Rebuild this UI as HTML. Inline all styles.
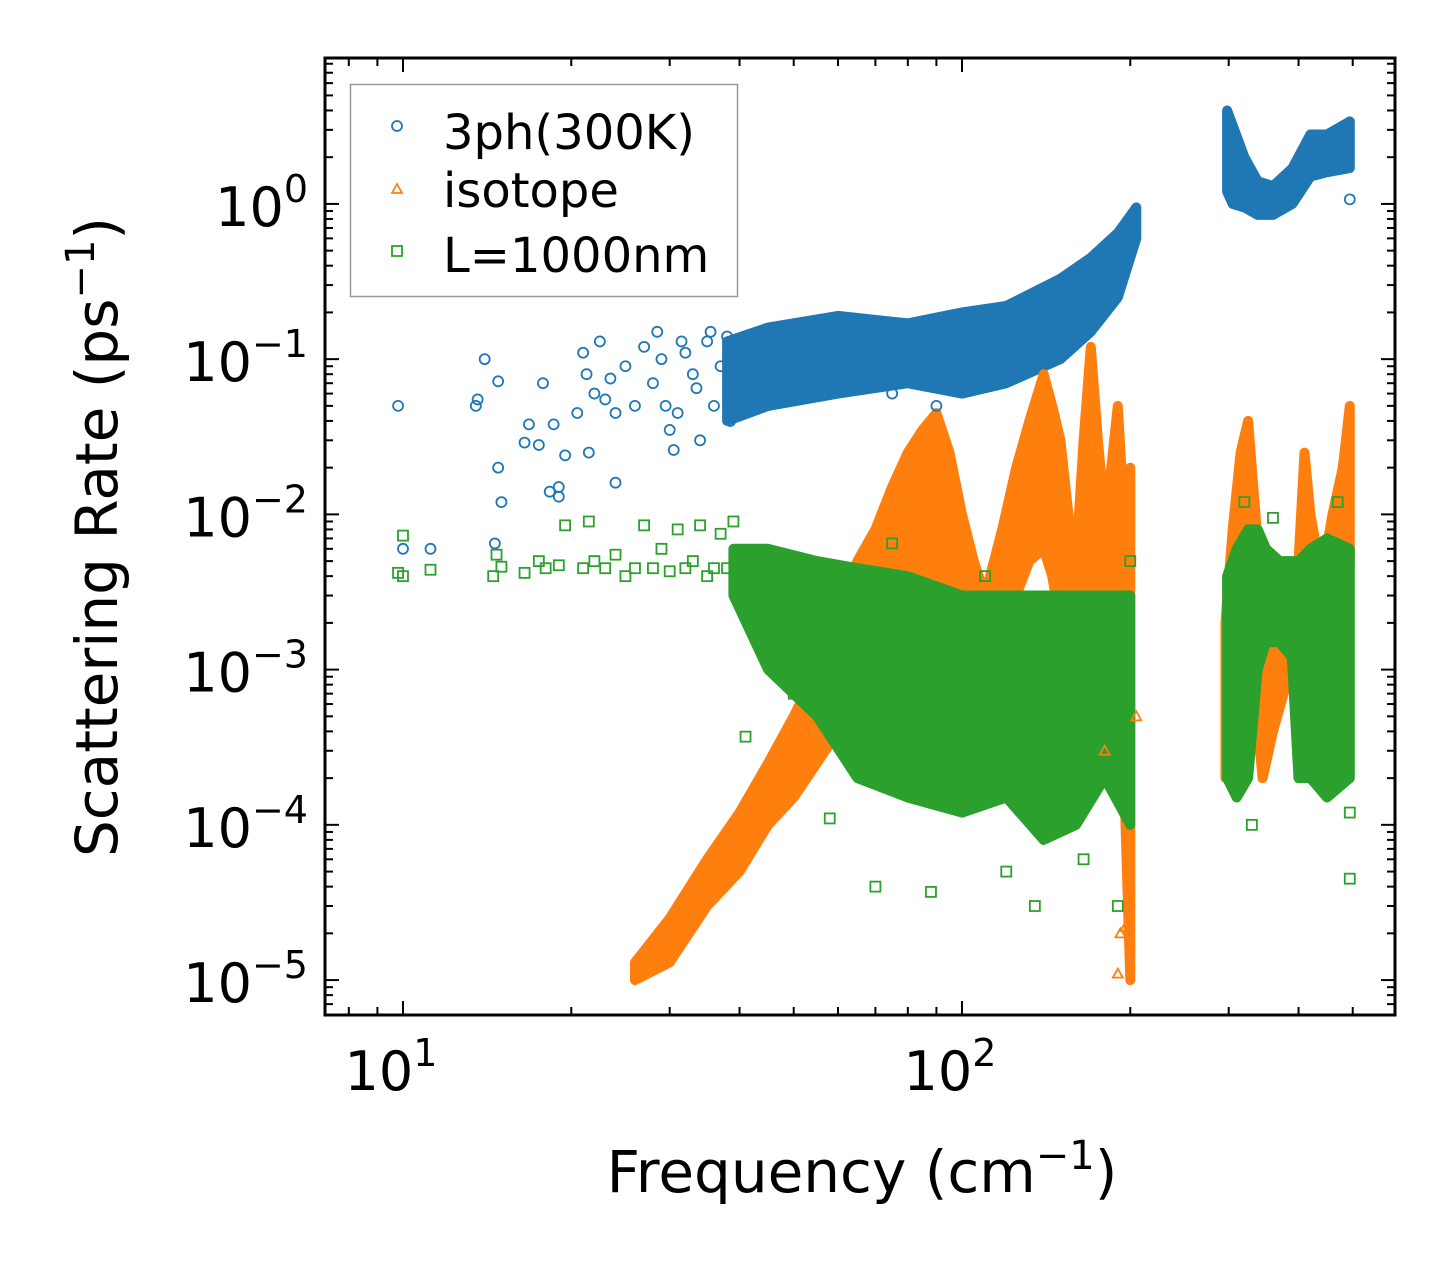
<!DOCTYPE html>
<html><head><meta charset="utf-8"><style>
html,body{margin:0;padding:0;background:#fff;}
svg{display:block;font-family:"DejaVu Sans","Liberation Sans",sans-serif;}
</style></head><body>
<svg id="chart" width="1455" height="1265" viewBox="0 0 1455 1265" xmlns="http://www.w3.org/2000/svg">
<rect width="1455" height="1265" fill="#fff"/>
<g id="bands"></g>
<g id="points"></g>
<g id="axes"></g>
<g>
<rect x="350.5" y="84.5" width="387" height="212" fill="#fff" fill-opacity="0.8" stroke="#999" stroke-width="1.5"/>
<circle cx="397" cy="126" r="5" fill="none" stroke="#1f77b4" stroke-width="1.8"/>
<text x="443" y="149" font-size="48">3ph(300K)</text>
<path d="M397 184 L402 193 L392 193 Z" fill="none" stroke="#ff7f0e" stroke-width="1.8"/>
<text x="443" y="207" font-size="48">isotope</text>
<rect x="392" y="246" width="10" height="10" fill="none" stroke="#2ca02c" stroke-width="1.8"/>
<text x="443" y="272" font-size="48">L=1000nm</text>
</g>
<text x="862" y="1192" font-size="58" text-anchor="middle">Frequency (cm<tspan dy="-23" font-size="40">−1</tspan><tspan dy="23">)</tspan></text>
<text transform="translate(117,537) rotate(-90)" font-size="58" text-anchor="middle">Scattering Rate (ps<tspan dy="-23" font-size="40">−1</tspan><tspan dy="23">)</tspan></text>
</svg>
<script>
// ---- data ----
const xTickExps = [1, 2];
const yTickExps = [0, -1, -2, -3, -4, -5];
// blue (3ph) sparse points: frequency, rate
const blueFreq = [9.8,10,11.2,13.5,13.6,14,14.8,14.8,15,14.6,16.5,16.8,17.5,17.8,18.3,18.6,19,19,19.5,20.5,21,21.3,21.5,22,22.5,23,23.5,24,24,25,26,27,28,28.5,29,29.5,30,30.5,31,31.5,32,33,33.5,34,35,35.5,36,37,38,38.5,39,75,90,494];
const blueRate = [0.05,0.006,0.006,0.05,0.055,0.1,0.072,0.02,0.012,0.0065,0.029,0.038,0.028,0.07,0.014,0.038,0.015,0.013,0.024,0.045,0.11,0.08,0.025,0.06,0.13,0.055,0.075,0.016,0.045,0.09,0.05,0.12,0.07,0.15,0.1,0.05,0.035,0.026,0.045,0.13,0.11,0.08,0.065,0.03,0.13,0.15,0.05,0.09,0.14,0.04,0.055,0.06,0.05,1.07];
// blue dense cloud envelopes
const blueBandFreq = [38,45,60,80,100,120,150,170,190,205];
const blueBandLo = [0.04,0.05,0.06,0.07,0.06,0.07,0.1,0.15,0.25,0.6];
const blueBandHi = [0.13,0.16,0.19,0.17,0.2,0.22,0.33,0.45,0.65,0.95];
const blueHiFreq = [298,305,320,338,360,390,420,450,494];
const blueHiLo = [1.2,1.0,0.95,0.85,0.85,1.0,1.5,1.6,1.7];
const blueHiHi = [4.0,3.2,2.0,1.4,1.3,1.7,2.8,2.8,3.4];
// orange (isotope) envelopes
const orangeFreq = [26,30,35,40,45,50,55,60,65,70,75,80,85,90,95,100,105,110,118,125,132,140,145,150,155,160,165,170,175,180,185,190,195,200];
const orangeLo = [1e-5,1.3e-5,3e-5,5e-5,1e-4,1.5e-4,2.5e-4,4e-4,6e-4,1e-3,1.5e-3,2e-3,2.5e-3,3e-3,3e-3,2e-3,1.5e-3,1e-3,2e-3,3e-3,5e-3,6e-3,4e-3,2e-3,1.5e-3,1e-3,1.5e-3,3e-3,2e-3,1e-3,8e-4,5e-4,2e-4,1e-5];
const orangeHi = [1.3e-5,2.5e-5,6e-5,1.2e-4,2.5e-4,5e-4,1e-3,2e-3,5e-3,8e-3,1.5e-2,2.5e-2,3.5e-2,4.5e-2,2.5e-2,1e-2,5e-3,3e-3,8e-3,2e-2,4e-2,8e-2,5e-2,3e-2,1e-2,5e-3,3e-2,1.2e-1,3e-2,1e-2,2e-2,5e-2,1e-2,2e-2];
const orangeHiFreq = [296,305,315,325,335,345,360,380,400,410,420,440,460,480,494];
const orangeHiLo = [2e-4,3e-4,5e-4,1e-3,6e-4,2e-4,4e-4,8e-4,1.5e-3,3e-3,2e-3,1e-3,2e-3,4e-3,5e-3];
const orangeHiHi = [2e-3,8e-3,2.5e-2,4e-2,1e-2,2e-3,1.5e-3,2e-3,5e-3,2.5e-2,1e-2,4e-3,1e-2,2e-2,5e-2];
const orangeFreqPts = [190,192,196,180,205];
const orangeRatePts = [1.1e-5,2e-5,2.2e-5,3e-4,5e-4];
// green (boundary) points and envelopes
const greenFreq = [9.8,10,10,11.2,14.5,14.7,15,16.5,17.5,18,19,19.5,21,21.5,22,23,24,25,26,27,28,29,30,31,32,33,34,35,36,37,38,39,41,50,58,70,88,120,135,165,190,494,330,494,62,75,110,150,200,320,360,470];
const greenRate = [0.0042,0.0073,0.004,0.0044,0.004,0.0055,0.0046,0.0042,0.005,0.0045,0.0047,0.0085,0.0045,0.009,0.005,0.0045,0.0055,0.004,0.0045,0.0085,0.0045,0.006,0.0043,0.008,0.0045,0.005,0.0085,0.004,0.0045,0.0075,0.0045,0.009,0.00037,0.0007,0.00011,0.00004,0.000037,0.00005,0.00003,0.00006,0.00003,0.000045,0.0001,0.00012,0.0045,0.0065,0.004,0.0025,0.005,0.012,0.0095,0.012];
const greenBandFreq = [39,45,55,65,80,100,120,140,160,180,200];
const greenBandLo = [3e-3,1e-3,5e-4,2e-4,1.5e-4,1.2e-4,1.5e-4,8e-5,1e-4,2e-4,1e-4];
const greenBandHi = [6e-3,6e-3,5e-3,4.5e-3,4e-3,3e-3,3e-3,3e-3,3e-3,3e-3,3e-3];
const greenHiFreq = [298,310,325,338,350,370,389,400,420,450,494];
const greenHiLo = [2e-4,1.5e-4,2e-4,1e-3,1.5e-3,1.5e-3,1.2e-3,2e-4,2e-4,1.5e-4,2e-4];
const greenHiHi = [4e-3,6e-3,8e-3,8e-3,6e-3,5e-3,5e-3,5e-3,6e-3,7e-3,6e-3];

// ---- scales ----
const X0=325,X1=1395,Y0=58,Y1=1015;
const xMinL=0.8605,xMaxL=2.7746,yMinL=-5.225,yMaxL=0.94;
const xs=v=>X0+(Math.log10(v)-xMinL)/(xMaxL-xMinL)*(X1-X0);
const ys=v=>Y1-(Math.log10(v)-yMinL)/(yMaxL-yMinL)*(Y1-Y0);
const NS='http://www.w3.org/2000/svg';
function mk(tag,attrs,parent){const e=document.createElementNS(NS,tag);for(const k in attrs)e.setAttribute(k,attrs[k]);parent.appendChild(e);return e;}
const bands=document.getElementById('bands'),pts=document.getElementById('points'),axes=document.getElementById('axes');
const C={b:'#1f77b4',o:'#ff7f0e',g:'#2ca02c'};

function band(fr,lo,hi,col,name){
  let d='';
  fr.forEach((f,i)=>{d+=(i?'L':'M')+xs(f).toFixed(1)+' '+ys(hi[i]).toFixed(1);});
  for(let i=fr.length-1;i>=0;i--)d+='L'+xs(fr[i]).toFixed(1)+' '+ys(lo[i]).toFixed(1);
  const p=mk('path',{d:d+'Z',fill:col,stroke:col,'stroke-width':10,'stroke-linejoin':'round'},bands);
  
  
}
function marker(kind,f,v,col){
  const x=xs(f),y=ys(v);let e;
  if(kind==='c')e=mk('circle',{cx:x,cy:y,r:5,fill:'none',stroke:col,'stroke-width':1.8},pts);
  else if(kind==='t')e=mk('path',{d:`M${x} ${y-5}L${x+5} ${y+4}L${x-5} ${y+4}Z`,fill:'none',stroke:col,'stroke-width':1.8},pts);
  else e=mk('rect',{x:x-5,y:y-5,width:10,height:10,fill:'none',stroke:col,'stroke-width':1.8},pts);
  
  
}
band(blueBandFreq,blueBandLo,blueBandHi,C.b,'3ph-cloud-low');
band(blueHiFreq,blueHiLo,blueHiHi,C.b,'3ph-cloud-high');
blueFreq.forEach((f,i)=>marker('c',f,blueRate[i],C.b));
band(orangeFreq,orangeLo,orangeHi,C.o,'isotope-cloud-low');
band(orangeHiFreq,orangeHiLo,orangeHiHi,C.o,'isotope-cloud-high');
orangeFreqPts.forEach((f,i)=>marker('t',f,orangeRatePts[i],C.o));
band(greenBandFreq,greenBandLo,greenBandHi,C.g,'boundary-cloud-low');
band(greenHiFreq,greenHiLo,greenHiHi,C.g,'boundary-cloud-high');
greenFreq.forEach((f,i)=>marker('s',f,greenRate[i],C.g));

// ---- axes ----
const fr=mk('rect',{x:X0,y:Y0,width:X1-X0,height:Y1-Y0,fill:'none',stroke:'#000','stroke-width':3},axes);


for(let e=0;e<=3;e++){for(let m=1;m<10;m++){const v=m*Math.pow(10,e);const x=xs(v);if(x<X0||x>X1)continue;const L=m===1?14:8;
  mk('line',{x1:x,y1:Y1,x2:x,y2:Y1-L,stroke:'#000','stroke-width':2},axes);
  mk('line',{x1:x,y1:Y0,x2:x,y2:Y0+L,stroke:'#000','stroke-width':2},axes);}}
for(let e=-6;e<=1;e++){for(let m=1;m<10;m++){const v=m*Math.pow(10,e);const y=ys(v);if(y<Y0||y>Y1)continue;const L=m===1?14:8;
  mk('line',{x1:X0,y1:y,x2:X0+L,y2:y,stroke:'#000','stroke-width':2},axes);
  mk('line',{x1:X1,y1:y,x2:X1-L,y2:y,stroke:'#000','stroke-width':2},axes);}}
xTickExps.forEach(e=>{const t=mk('text',{x:xs(Math.pow(10,e))-12,y:1090,'font-size':54,'text-anchor':'middle'},axes);
  t.innerHTML='10<tspan dy="-24" font-size="38">'+e+'</tspan>';
  
  });
yTickExps.forEach(e=>{const t=mk('text',{x:308,y:ys(Math.pow(10,e))+22,'font-size':54,'text-anchor':'end'},axes);
  t.innerHTML='10<tspan dy="-24" font-size="38">'+(e<0?'−'+(-e):e)+'</tspan>';
  
  });
</script>
</body></html>
